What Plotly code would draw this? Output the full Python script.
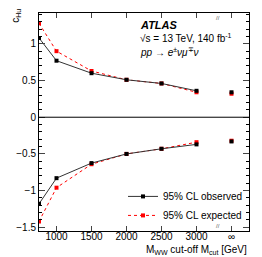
import plotly.graph_objects as go

mcut = [750, 1000, 1500, 2000, 2500, 3000]
inf_pos = 3500
obs_up = [1.08, 0.77, 0.60, 0.51, 0.46, 0.36]
obs_dn = [-1.18, -0.83, -0.625, -0.50, -0.43, -0.37]
exp_up = [1.28, 0.90, 0.63, 0.51, 0.46, 0.34]
exp_dn = [-1.42, -0.96, -0.64, -0.50, -0.43, -0.34]
obs_inf = [0.34, -0.33]
exp_inf = [0.32, -0.32]
xticks = [1000, 1500, 2000, 2500, 3000, 3500]
xticklabels = ["1000", "1500", "2000", "2500", "3000", "∞"]
yticks = [-1.5, -1, -0.5, 0, 0.5, 1]
yticklabels = ["−1.5", "−1", "−0.5", "0", "0.5", "1"]

BLK = "#000000"
RED = "#ff0000"
fig = go.Figure()
for ys in [exp_up, exp_dn]:
    fig.add_trace(go.Scatter(x=mcut, y=ys, mode="lines+markers",
                             line=dict(color=RED, width=1, dash="dot"),
                             marker=dict(color=RED, size=4, symbol="square"),
                             showlegend=False))
fig.add_trace(go.Scatter(x=[inf_pos, inf_pos], y=exp_inf, mode="markers",
                         marker=dict(color=RED, size=4, symbol="square"), showlegend=False))
for ys in [obs_up, obs_dn]:
    fig.add_trace(go.Scatter(x=mcut, y=ys, mode="lines+markers",
                             line=dict(color="#333333", width=1),
                             marker=dict(color=BLK, size=4, symbol="square"),
                             showlegend=False))
fig.add_trace(go.Scatter(x=[inf_pos, inf_pos], y=obs_inf, mode="markers",
                         marker=dict(color=BLK, size=4, symbol="square"), showlegend=False))
fig.add_trace(go.Scatter(x=[None], y=[None], mode="lines+markers",
                         line=dict(color="#333333", width=1),
                         marker=dict(color=BLK, size=4, symbol="square"),
                         name="95% CL observed"))
fig.add_trace(go.Scatter(x=[None], y=[None], mode="lines+markers",
                         line=dict(color=RED, width=1, dash="dot"),
                         marker=dict(color=RED, size=4, symbol="square"),
                         name="95% CL expected"))

fig.add_hline(y=0, line=dict(color=BLK, width=1))

font = dict(family="Liberation Sans, Arial, sans-serif", size=10, color="#000000")
fig.update_layout(
    width=254, height=249, margin=dict(l=31, r=13, t=5, b=26),
    paper_bgcolor="white", plot_bgcolor="white", font=font,
    xaxis=dict(range=[750, 3750], tickvals=xticks, ticktext=xticklabels,
               ticks="inside", ticklen=5, mirror="ticks", showline=True,
               linecolor=BLK, linewidth=1, showgrid=False, zeroline=False,
               tickfont=dict(size=10), ticklabelstandoff=-4),
    yaxis=dict(range=[-1.55, 1.42], tickvals=yticks, ticktext=yticklabels,
               ticks="inside", ticklen=6, mirror="ticks", showline=True,
               linecolor=BLK, linewidth=1, showgrid=False, zeroline=False,
               minor=dict(dtick=0.1, ticks="inside", ticklen=3, tickcolor=BLK),
               tickfont=dict(size=10)),
    legend=dict(x=0.40, y=0.005, xanchor="left", yanchor="bottom",
                bgcolor="rgba(0,0,0,0)", font=dict(size=10), tracegroupgap=0,
                itemwidth=30),
    annotations=[
        dict(text="<b><i>ATLAS</i></b>", xref="paper", yref="paper", x=0.47, y=0.945,
             xanchor="left", yanchor="middle", showarrow=False, font=dict(size=11)),
        dict(text="√s = 13 TeV, 140 fb<sup>-1</sup>", xref="paper", yref="paper", x=0.47, y=0.885,
             xanchor="left", yanchor="middle", showarrow=False, font=dict(size=10)),
        dict(text="<i>pp</i> → <i>e</i><sup>±</sup><i>νμ</i><sup>∓</sup><i>ν</i>", xref="paper", yref="paper",
             x=0.47, y=0.82, xanchor="left", yanchor="middle", showarrow=False, font=dict(size=10)),
        dict(text="c<sub>Hu</sub>", xref="paper", yref="paper", x=-0.07, y=1.03, textangle=-90,
             xanchor="right", yanchor="top", showarrow=False, font=dict(size=10)),
        dict(text="M<sub>WW</sub> cut-off M<sub>cut</sub> [GeV]", xref="paper", yref="paper", x=1.0, y=-0.05,
             xanchor="right", yanchor="top", showarrow=False, font=dict(size=10)),
        dict(text="//", xref="x", yref="paper", x=3300, y=1.0, showarrow=False,
             font=dict(size=6, color="#555555")),
        dict(text="//", xref="x", yref="paper", x=3300, y=0.0, showarrow=False,
             font=dict(size=6, color="#555555")),
    ],
)
fig.write_html("out.html")
